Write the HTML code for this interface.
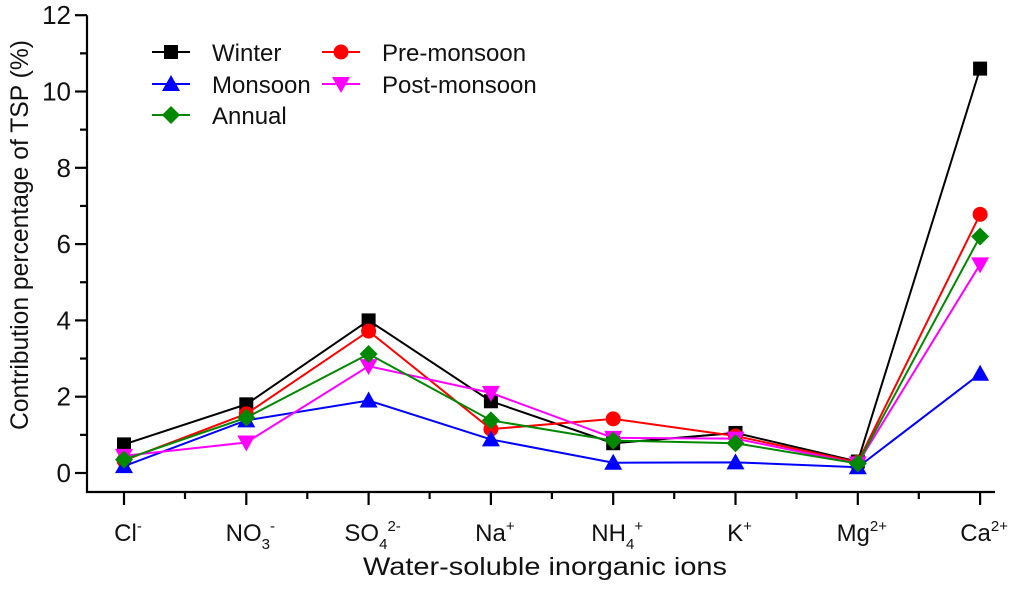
<!DOCTYPE html>
<html><head><meta charset="utf-8"><style>
body{margin:0;background:#fff;}
svg text{font-family:"Liberation Sans",Arial,sans-serif;fill:#111;}
</style></head><body>
<svg id="c" width="1024" height="586" xmlns="http://www.w3.org/2000/svg"></svg>
<script>
const categories=['Cl','NO3','SO4','Na','NH4','K','Mg','Ca'];
const winter=[0.75,1.8,4.0,1.88,0.78,1.05,0.3,10.6];
const preMonsoon=[0.33,1.55,3.72,1.15,1.42,0.97,0.28,6.78];
const monsoon=[0.18,1.38,1.9,0.88,0.27,0.28,0.15,2.6];
const postMonsoon=[0.45,0.8,2.8,2.1,0.92,0.9,0.25,5.47];
const annual=[0.35,1.45,3.12,1.38,0.85,0.78,0.25,6.2];
const yTicks=[0,2,4,6,8,10,12];
const NS='http://www.w3.org/2000/svg';
const svg=document.getElementById('c');
const X0=87,YB=492;
function xs(i){return 124+i*122.3;}
function ys(v){return 473-v*38.15;}
function mk(t,a,p){const e=document.createElementNS(NS,t);for(const k in a)e.setAttribute(k,a[k]);(p||svg).appendChild(e);return e;}
let ax=mk('path',{d:`M${X0} ${ys(12)}V${YB}H995`,stroke:'#000','stroke-width':2.2,fill:'none'});


yTicks.forEach(v=>{
  mk('line',{x1:X0-12,x2:X0,y1:ys(v),y2:ys(v),stroke:'#000','stroke-width':2.2});
  if(v<12)mk('line',{x1:X0-7,x2:X0,y1:ys(v+1),y2:ys(v+1),stroke:'#000','stroke-width':2.2});
  const t=mk('text',{x:X0-16,y:ys(v)+9,'text-anchor':'end','font-size':26});t.textContent=v;
  
  
});
const S='font-size="15"';
const labels=[`Cl<tspan dy="-10" ${S}>-</tspan>`,`NO<tspan dy="8" ${S}>3</tspan><tspan dy="-18" ${S}>-</tspan>`,`SO<tspan dy="8" ${S}>4</tspan><tspan dy="-18" ${S}>2-</tspan>`,`Na<tspan dy="-10" ${S}>+</tspan>`,`NH<tspan dy="8" ${S}>4</tspan><tspan dy="-18" ${S}>+</tspan>`,`K<tspan dy="-10" ${S}>+</tspan>`,`Mg<tspan dy="-10" ${S}>2+</tspan>`,`Ca<tspan dy="-10" ${S}>2+</tspan>`];
categories.forEach((c,i)=>{
  mk('line',{x1:xs(i),x2:xs(i),y1:YB,y2:YB+13,stroke:'#000','stroke-width':2.2});
  if(i<7)mk('line',{x1:xs(i)+61,x2:xs(i)+61,y1:YB,y2:YB+7,stroke:'#000','stroke-width':2.2});
  const t=mk('text',{x:xs(i)+4,y:541,'text-anchor':'middle','font-size':24});t.innerHTML=labels[i];
  
  
});
let xt=mk('text',{x:545,y:575,'text-anchor':'middle','font-size':25,textLength:364,lengthAdjust:'spacingAndGlyphs'});xt.textContent='Water-soluble inorganic ions';


let yt=mk('text',{x:0,y:0,'text-anchor':'middle','font-size':25,textLength:390,lengthAdjust:'spacingAndGlyphs',transform:'translate(28,235) rotate(-90)'});yt.textContent='Contribution percentage of TSP (%)';


function marker(shape,x,y,col,g){
  if(shape==='sq')return mk('rect',{x:x-7,y:y-7,width:14,height:14,fill:col},g);
  if(shape==='ci')return mk('circle',{cx:x,cy:y,r:7.5,fill:col},g);
  if(shape==='up')return mk('path',{d:`M${x} ${y-9}L${x+9} ${y+7}L${x-9} ${y+7}Z`,fill:col},g);
  if(shape==='dn')return mk('path',{d:`M${x} ${y+9}L${x+9} ${y-7}L${x-9} ${y-7}Z`,fill:col},g);
  return mk('path',{d:`M${x} ${y-9}L${x+9} ${y}L${x} ${y+9}L${x-9} ${y}Z`,fill:col},g);
}
const series=[['winter',winter,'#000','sq'],['pre-monsoon',preMonsoon,'#f00','ci'],['monsoon',monsoon,'#00f','up'],['post-monsoon',postMonsoon,'#f0f','dn'],['annual',annual,'#080','di']];
series.forEach(([n,d,col,sh])=>{
  const g=mk('g',{});
  
  
  mk('polyline',{points:d.map((v,i)=>xs(i)+','+ys(v)).join(' '),fill:'none',stroke:col,'stroke-width':2},g);
  d.forEach((v,i)=>{const m=marker(sh,xs(i),ys(v),col,g);
    
    });
});
const leg=[['Winter',152,52,'#000','sq'],['Pre-monsoon',322,52,'#f00','ci'],['Monsoon',152,84,'#00f','up'],['Post-monsoon',322,84,'#f0f','dn'],['Annual',152,115,'#080','di']];
leg.forEach(([n,x,y,col,sh])=>{
  const g=mk('g',{});
  
  
  mk('line',{x1:x,x2:x+38,y1:y,y2:y,stroke:col,'stroke-width':2},g);
  marker(sh,x+19,y,col,g);
  const t=mk('text',{x:x+60,y:y+9,'font-size':24},g);t.textContent=n;
});
</script>
</body></html>
